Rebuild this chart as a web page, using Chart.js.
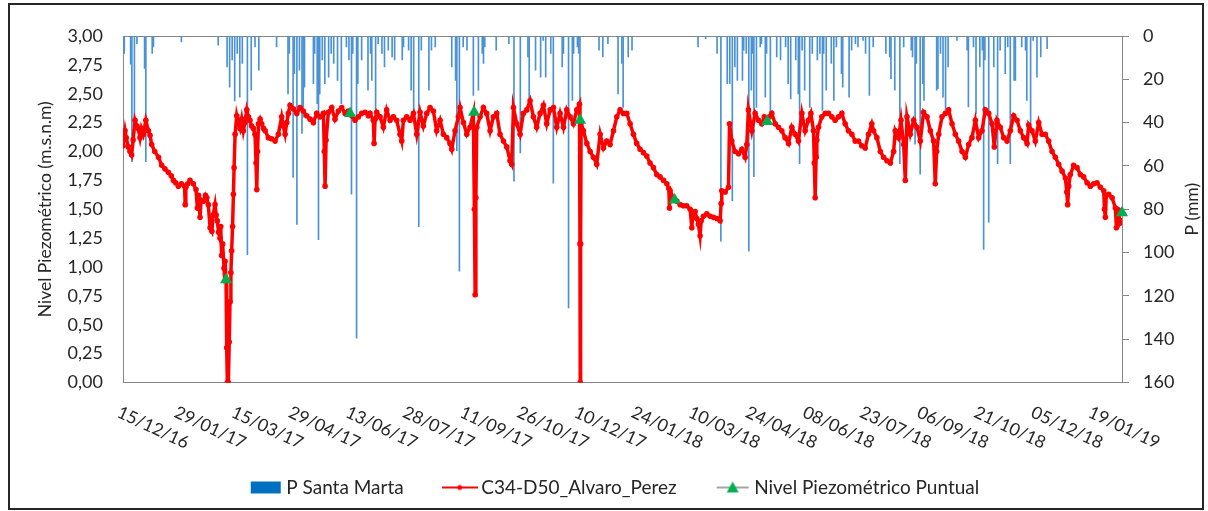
<!DOCTYPE html>
<html>
<head>
<meta charset="utf-8">
<script src="https://cdn.jsdelivr.net/npm/chart.js@4.4.1/dist/chart.umd.min.js"></script>
<style>
  html, body { margin: 0; padding: 0; background: #fff; }
  #wrap { width: 1208px; height: 511px; position: relative; }
</style>
</head>
<body>
<div id="wrap"><canvas id="chart"></canvas></div>
<script>
// x values are days counted from 15/12/16
const tickDays = [0, 45, 90, 135, 180, 225, 270, 315, 360, 405, 450, 495, 540, 585, 630, 675, 720, 765];
const tickLabels = ['15/12/16', '29/01/17', '15/03/17', '29/04/17', '13/06/17', '28/07/17', '11/09/17', '26/10/17',
  '10/12/17', '24/01/18', '10/03/18', '24/04/18', '08/06/18', '23/07/18', '06/09/18', '21/10/18', '05/12/18', '19/01/19'];

// P Santa Marta (mm)
const rainDays = [1, 6, 7, 9, 11, 17, 18, 23, 24, 46, 75, 82, 84, 86, 88, 90, 92, 94, 98, 101, 104, 107, 121, 130, 131,
  134, 135, 137, 139, 141, 142, 143, 150, 151, 153, 154, 155, 157, 159, 162, 164, 166, 169, 172, 176, 178, 180, 181,
  184, 185, 188, 193, 195, 196, 199, 201, 204, 206, 209, 212, 214, 220, 221, 225, 227, 229, 233, 235, 241, 243, 246,
  259, 262, 263, 265, 268, 271, 276, 280, 283, 284, 285, 294, 304, 308, 313, 319, 320, 325, 329, 331, 333, 337, 339,
  346, 347, 351, 354, 355, 358, 359, 360, 375, 378, 382, 390, 393, 394, 398, 401, 453, 459, 468, 471, 476, 478, 480,
  482, 484, 488, 489, 491, 493, 495, 496, 497, 499, 502, 503, 506, 507, 510, 515, 518, 522, 524, 526, 530, 532, 533,
  535, 537, 541, 543, 547, 549, 551, 552, 554, 558, 560, 562, 566, 567, 572, 574, 577, 579, 583, 585, 588, 591, 601,
  604, 605, 608, 612, 615, 621, 622, 624, 625, 628, 630, 631, 641, 642, 644, 646, 648, 650, 657, 665, 666, 670, 672,
  675, 677, 678, 679, 682, 686, 689, 691, 695, 697, 699, 702, 703, 708, 711, 712, 715, 717, 720, 723, 728];
const rainMm = [8, 13, 58, 42, 3.5, 15, 58, 8, 5, 2.7, 4.2, 14.3, 23.6, 11, 30, 8, 28.2, 12.7, 101, 25, 5, 15.8, 5, 26.7, 8,
  65.3, 17.4, 87, 15.8, 45, 37.5, 23.6, 22, 8, 31.3, 94, 26.7, 11, 22, 19, 8, 12.7, 20.5, 31.3, 5, 11, 73, 8,
  139.5, 22, 11, 25, 8, 20.5, 36, 3.5, 8, 14.3, 6.6, 9.7, 11, 11, 5, 6.6, 25, 34, 88, 6.6, 25, 6.6, 5,
  14.3, 20.5, 53, 108.6, 5, 6.6, 27.4, 25, 8, 12.7, 5, 6.6, 3.5, 67, 54, 9.7, 29.8, 15.8, 19, 2, 19, 8, 68,
  14.3, 8, 125.6, 29.8, 8, 5, 8, 56, 6.6, 9.7, 3.5, 26.7, 12.7, 33, 9.7, 6.6, 5, 1.2, 8, 94.7, 22, 22, 76,
  14.3, 20.5, 20.5, 6.6, 8, 99.3, 25, 8, 65, 33, 5, 3.5, 28.2, 8, 37.5, 9.7, 11, 5, 22, 29, 11, 26.7, 59,
  6.6, 25, 33, 8, 11, 8, 34.4, 8, 25, 12.7, 29.8, 5, 17.4, 23.6, 28.2, 6.6, 3.5, 5, 2, 8, 27.4, 5, 8,
  9.7, 19.7, 25, 59, 5, 6.6, 9.7, 50, 12.7, 63.8, 22, 29.8, 25, 24.3, 8, 28.2, 34.4, 14.3, 2, 6.6, 32.7, 5, 36,
  14.3, 6.6, 98.6, 11, 86, 14.3, 59, 6.6, 17.4, 5, 59, 20.5, 20.5, 5, 6.6, 29.8, 43, 2, 19, 9.7, 5.8];

// C34-D50_Alvaro_Perez (m.s.n.m)
const levelDays = [0, 1.6, 2.5, 4.2, 5.5, 6.8, 8, 9.5, 11, 12, 13.4, 14.5, 16, 18, 20, 21.3, 22.6, 25, 28, 30.5, 33, 35.7,
  38, 39.7, 41.5, 43.6, 46, 48.5, 49, 49.5, 51, 52.8, 55.4, 57.5, 58.6, 59.5, 60.7, 61.5, 63.3, 65, 66, 67.2, 68.6, 70,
  71, 72.5, 73.4, 74.3, 75.3, 76.4, 77, 77.7, 78.5, 79.6, 80.4, 81.2, 81.7, 82.2, 83, 83.7, 84.3, 85, 85.6, 86.3, 87,
  87.5, 88.3, 89.6, 90.8, 92.2, 93.5, 94.8, 96, 97.5, 98.8, 100, 101.3, 102.7, 104, 104.8, 105.4, 106, 106.7, 108,
  109.3, 110.7, 112, 114.5, 117, 119.8, 122.4, 125, 126.3, 127.7, 129, 130.3, 131.6, 134.2, 136.9, 139.5, 142, 144.7,
  147.4, 150, 152.6, 155.2, 157.9, 158.6, 159.2, 160, 161.8, 164.4, 167, 169.7, 172.3, 175, 177.6, 180.2, 182.8, 185.5,
  188, 190.7, 193.3,
  194.6, 197.2, 197.8, 198.6, 199.9, 202.5, 205.1, 207.7, 210.4, 213, 215.6, 218.2, 219.6, 220.9, 223.5, 226.1, 228.8,
  231.4, 234, 236.6, 239.3, 241.9, 244.5, 247.1, 249.8, 252.4, 255, 257.6, 259, 261.6, 264.2, 265.5, 268.2, 270.8,
  273.4, 276, 276.8, 277.4, 278, 278.7, 281.3, 283.9, 286.5, 289.2, 291.8, 294.4, 297, 299.7, 302.3, 304.9, 306.2,
  307.6, 310.2, 312.8, 315.4, 318.1, 320.7, 323.3, 325.9, 328.6, 331.2, 333.8, 336.5, 339.1, 341.7, 344.3, 347, 349.6,
  352.2, 354.8, 357.5, 359.6, 360, 360.2, 360.5, 360.9, 362.7, 365.4, 368, 370.6, 373.2, 375.9, 378.5, 381.1, 383.7,
  386.4, 389,
  391.6, 394.2, 396.9, 399.5, 402.1, 404.7, 407.4, 410, 412.6, 415.2, 417.9, 420.5, 423.1, 425.8, 428.4, 430, 430.5,
  431, 433.6, 436.3, 438.9, 441.5, 444.1, 446.8, 448.1, 449, 450.7, 452, 453.3, 454.6, 455.5, 457.3, 459.9, 462.5,
  465.2, 467.8, 470.4, 471.2, 471.7, 474.4, 477, 477.8, 479.6, 482.2, 484.9, 487.5, 490.1, 491.4, 492.7, 495.4, 498,
  500.6, 503.2, 505.2, 507.2, 509.2, 511.1, 513.8, 516.4, 519, 521.6, 524.3, 526.9, 529.5, 532.1, 534.8, 537.4, 540,
  541.9, 544, 544.6, 545.3, 546, 546.6, 547.9, 550.5, 553.2, 555.8, 558.4, 561, 563.7, 566.3, 568.9, 571.5, 574.2,
  576.8, 579.4, 582, 584.7, 587.3, 589.9,
  591.3, 593.9, 596.6, 599.2, 601.8, 604.5, 607.1, 608.4, 611, 612.9, 615, 616.3, 617.6, 620.2, 622.9, 625.5, 628.1,
  630.7, 633.4, 636, 638.6, 639.9, 641, 642.6, 645.2, 647.8, 650.4, 653.1, 655.7, 658.3, 661, 663.6, 666.2, 668.8,
  671.5, 674.1, 676.7, 679.3, 682, 684.6, 686.4, 688.5, 691.1, 693.8, 696.4, 699, 701.7, 704.3, 706.9, 709.5, 712.2,
  713.5, 716.1, 718.7, 721.4, 724, 726.6, 729.2, 731.9, 734.5, 737.1, 739.8, 742.4, 743.5, 744.2, 745, 746.3, 748.9,
  751.6, 754.2, 756.8, 759.5, 762.1, 764.7, 767.3, 770, 772.6, 773.2, 773.9, 774.6, 776.5, 779.2, 781.8, 782.6, 783.4,
  784.4, 785.3, 786.3];
const levelValues = [2.05, 2.18, 2.12, 2.04, 2.0, 1.97, 2.1, 2.27, 2.22, 2.2, 2.12, 2.2, 2.15, 2.27, 2.18, 2.14, 2.06, 2.0, 1.95, 1.88, 1.85, 1.82,
  1.79, 1.75, 1.73, 1.70, 1.72, 1.70, 1.54, 1.69, 1.72, 1.75, 1.72, 1.67, 1.51, 1.62, 1.43, 1.58, 1.57, 1.62, 1.6, 1.54, 1.34, 1.31,
  1.45, 1.54, 1.45, 1.40, 1.30, 1.25, 1.35, 1.1, 1.2, 0.99, 1.05, 0.88, 0.3, 0, 0, 0.35, 0.7, 0.95, 1.14, 1.35, 1.63,
  1.86, 2.15, 2.31, 2.25, 2.2, 2.28, 2.18, 2.25, 2.36, 2.3, 2.27, 2.22, 2.2, 2.15, 1.9, 1.67, 2.0, 2.24, 2.28,
  2.24, 2.2, 2.18, 2.12, 2.11, 2.09, 2.15, 2.3, 2.22, 2.15, 2.25, 2.33, 2.4, 2.37, 2.33, 2.38, 2.35, 2.31,
  2.28, 2.25, 2.33, 2.3, 2.33, 2.0, 1.70, 2.1, 2.34, 2.38, 2.28, 2.35, 2.38, 2.33, 2.35, 2.31, 2.27, 2.3,
  2.33, 2.34, 2.31,
  2.33, 2.27, 2.07, 2.28, 2.34, 2.30, 2.21, 2.36, 2.27, 2.30, 2.27, 2.15, 2.09, 2.27, 2.30, 2.27, 2.33,
  2.15, 2.34, 2.22, 2.33, 2.38, 2.35, 2.18, 2.27, 2.15, 2.12, 2.07, 2.02, 2.18, 2.30, 2.38, 2.25, 2.15,
  2.21, 2.33, 1.5, 0.76, 1.6, 2.21, 2.30, 2.38, 2.33, 2.18, 2.30, 2.33, 2.15, 2.09, 2.04, 1.92, 1.89,
  2.38, 2.24, 2.15, 2.33, 2.36, 2.44, 2.30, 2.21, 2.33, 2.40, 2.24, 2.36, 2.38, 2.21, 2.33, 2.21, 2.36,
  2.30, 2.24, 2.36, 2.41, 1.2, 0, 1.2, 2.25, 2.18, 2.07, 2.0, 1.95, 1.89, 2.15, 2.03, 2.09, 2.06,
  2.18, 2.30,
  2.36, 2.33, 2.33, 2.24, 2.15, 2.07, 2.02, 1.99, 1.96, 1.9, 1.86, 1.80, 1.78, 1.75, 1.72, 1.68, 1.51,
  1.66, 1.60, 1.57, 1.54, 1.53, 1.53, 1.50, 1.34, 1.47, 1.48, 1.42, 1.37, 1.27, 1.4, 1.44, 1.46, 1.44,
  1.43, 1.42, 1.40, 1.55, 1.66, 1.65, 1.69, 2.24, 2.09, 2.0, 1.98, 2.02, 1.95, 2.06, 2.36, 2.18, 2.33,
  2.27, 2.24, 2.3, 2.27, 2.3, 2.33, 2.24, 2.21, 2.18, 2.12, 2.07, 2.21, 2.15, 2.09, 2.33, 2.18, 2.27,
  2.33, 2.18, 1.9, 1.60, 1.95, 2.1, 2.21, 2.30, 2.33, 2.33, 2.30, 2.27, 2.30, 2.33, 2.24, 2.18, 2.15,
  2.09, 2.09, 2.05, 2.03, 2.15, 2.24,
  2.18, 2.12, 2.0, 1.95, 1.92, 1.90, 2.0, 2.18, 2.12, 2.27, 2.06, 1.75, 2.30, 2.15, 2.27, 2.21, 2.09,
  2.34, 2.30, 2.18, 2.09, 1.72, 2.0, 2.15, 2.30, 2.33, 2.36, 2.24, 2.15, 2.09, 2.0, 1.95, 2.06, 2.12,
  2.27, 2.12, 2.18, 2.36, 2.33, 2.24, 2.04, 2.27, 2.21, 2.12, 2.09, 2.18, 2.31, 2.27, 2.18, 2.12, 2.07,
  2.23, 2.18, 2.09, 2.25, 2.15, 2.15, 2.09, 2.0, 1.95, 1.89, 1.83, 1.77, 1.65, 1.54, 1.7, 1.80, 1.88,
  1.86, 1.80, 1.78, 1.73, 1.70, 1.72, 1.73, 1.69, 1.66, 1.5, 1.43, 1.62, 1.63, 1.60, 1.51, 1.34, 1.5,
  1.49, 1.38, 1.40];

// Nivel Piezométrico Puntual (m.s.n.m)
const spotDays = [81.2, 178.9, 276.6, 360.1, 434.6, 507.5, 787];
const spotValues = [0.89, 2.33, 2.34, 2.27, 1.58, 2.26, 1.47];

const FONT = 'Lato, "Open Sans", sans-serif';
const TEXT = '#262626';
const AXIS = '#868686';

// legend pictures are wider than the legend box so the text sits close to them
function legendIcon(kind) {
  const c = document.createElement('canvas');
  c.width = 36; c.height = 14;
  const g = c.getContext('2d');
  if (kind === 'bar') {
    g.fillStyle = '#0070C0';
    g.fillRect(4, 1, 30, 12);
  } else if (kind === 'level') {
    g.strokeStyle = '#FF0000'; g.lineWidth = 2;
    g.beginPath(); g.moveTo(0, 7); g.lineTo(36, 7); g.stroke();
    g.fillStyle = '#FF0000';
    g.beginPath(); g.arc(18, 7, 2.5, 0, Math.PI * 2); g.fill();
  } else {
    g.strokeStyle = '#A5A5A5'; g.lineWidth = 2;
    g.beginPath(); g.moveTo(2, 7); g.lineTo(34, 7); g.stroke();
    g.fillStyle = '#00B050';
    g.beginPath(); g.moveTo(18, 1); g.lineTo(24, 12); g.lineTo(12, 12); g.closePath(); g.fill();
  }
  return c;
}
const legendIcons = [legendIcon('bar'), legendIcon('level'), legendIcon('spot')];

// frame, top edge of plot, slanted date labels and right title
const decor = {
  id: 'decor',
  beforeDraw(chart) {
    const ctx = chart.ctx;
    ctx.save();
    ctx.strokeStyle = '#262626';
    ctx.lineWidth = 2;
    ctx.strokeRect(9, 4, 1194, 505);
    ctx.restore();
  },
  beforeDatasetsDraw(chart) {
    const {ctx, chartArea} = chart;
    ctx.save();
    ctx.strokeStyle = AXIS;
    ctx.lineWidth = 1;
    ctx.beginPath();
    ctx.moveTo(chartArea.left, chartArea.top + 0.5);
    ctx.lineTo(chartArea.right, chartArea.top + 0.5);
    ctx.stroke();
    ctx.restore();
  },
  afterDraw(chart) {
    const ctx = chart.ctx;
    const xs = chart.scales.x;
    ctx.save();
    ctx.fillStyle = TEXT;
    ctx.font = '17.5px ' + FONT;
    ctx.textAlign = 'left';
    ctx.textBaseline = 'top';
    tickDays.forEach((d, i) => {
      const px = xs.getPixelForValue(d);
      ctx.save();
      ctx.translate(px - 1, xs.top + 21);
      ctx.rotate(25 * Math.PI / 180);
      ctx.fillText(tickLabels[i], 0, 0);
      ctx.restore();
    });
    const a = chart.chartArea;
    ctx.translate(1192, (a.top + a.bottom) / 2);
    ctx.rotate(-Math.PI / 2);
    ctx.textAlign = 'center';
    ctx.textBaseline = 'middle';
    ctx.fillText('P (mm)', 0, 0);
    ctx.restore();
  }
};

new Chart(document.getElementById('chart'), {
  type: 'line',
  data: {
    datasets: [
      {
        type: 'bar',
        label: 'P Santa Marta',
        data: rainDays.map((d, i) => ({x: d, y: rainMm[i]})),
        yAxisID: 'y1',
        backgroundColor: '#4A92D4',
        barThickness: 1,
        order: 2
      },
      {
        label: 'C34-D50_Alvaro_Perez',
        data: levelDays.map((d, i) => ({x: d, y: levelValues[i]})),
        yAxisID: 'y',
        borderColor: '#FF0000',
        backgroundColor: '#FF0000',
        borderWidth: 3.5,
        pointRadius: 2.8,
        pointBorderWidth: 0,
        pointBackgroundColor: '#FF0000',
        tension: 0,
        order: 1
      },
      {
        label: 'Nivel Piezométrico Puntual',
        data: spotDays.map((d, i) => ({x: d, y: spotValues[i]})),
        yAxisID: 'y',
        showLine: false,
        pointStyle: 'triangle',
        pointRadius: 7,
        pointBorderWidth: 0,
        pointBackgroundColor: '#00B050',
        borderColor: '#A5A5A5',
        clip: false,
        order: 0
      }
    ]
  },
  options: {
    responsive: true,
    maintainAspectRatio: false,
    animation: false,
    events: [],
    layout: {
      padding: {left: 32, right: 8, top: 36, bottom: 4}
    },
    plugins: {
      tooltip: {enabled: false},
      legend: {
        position: 'bottom',
        labels: {
          usePointStyle: true,
          pointStyleWidth: 24,
          padding: 44,
          color: TEXT,
          font: {family: FONT, size: 19},
          generateLabels: function(chart) {
            const items = Chart.defaults.plugins.legend.labels.generateLabels(chart);
            items.forEach(it => { it.pointStyle = legendIcons[it.datasetIndex]; });
            return items.sort((a, b) => a.datasetIndex - b.datasetIndex);
          }
        }
      }
    },
    scales: {
      x: {
        type: 'linear',
        min: 0,
        max: 787,
        offset: false,
        grid: {display: false},
        border: {display: true, color: AXIS},
        ticks: {display: false},
        afterFit: function(scale) { scale.height = 51.5; }
      },
      y: {
        position: 'left',
        min: 0,
        max: 3,
        grid: {display: false, drawTicks: false},
        border: {display: true, color: AXIS},
        ticks: {
          stepSize: 0.25,
          padding: 20,
          color: TEXT,
          font: {family: FONT, size: 18},
          callback: function(value) {
            return value.toFixed(2).replace('.', ',');
          }
        },
        title: {
          display: true,
          text: 'Nivel Piezométrico (m.s.n.m)',
          color: TEXT,
          font: {family: FONT, size: 17.5},
          padding: {top: 3, bottom: 0}
        },
        afterFit: function(scale) { scale.width = 91; }
      },
      y1: {
        position: 'right',
        min: 0,
        max: 160,
        reverse: true,
        grid: {display: true, drawOnChartArea: false, drawTicks: true, tickLength: 7, color: AXIS},
        border: {display: true, color: AXIS},
        ticks: {
          stepSize: 20,
          padding: 14,
          color: TEXT,
          font: {family: FONT, size: 18}
        },
        afterFit: function(scale) { scale.width = 78; }
      }
    }
  },
  plugins: [decor]
});
</script>
</body>
</html>
